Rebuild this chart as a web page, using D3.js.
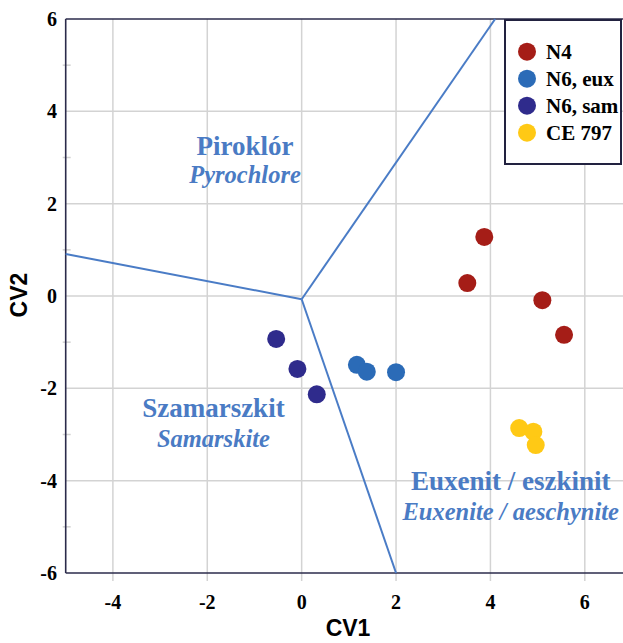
<!DOCTYPE html>
<html><head><meta charset="utf-8">
<script src="https://cdn.jsdelivr.net/npm/d3@7"></script>
<style>body{margin:0;background:#fff;}svg{display:block;}</style>
</head><body>
<script>
const seriesNames = ["N4", "N6, eux", "N6, sam", "CE 797"];
const seriesColors = ["#A51D17", "#2B6BB7", "#2F2B8C", "#FFC915"];
const n4 = [[3.87, 1.28], [3.51, 0.28], [5.10, -0.09], [5.56, -0.84]];
const n6eux = [[1.17, -1.49], [1.38, -1.64], [2.00, -1.65]];
const n6sam = [[-0.54, -0.93], [-0.09, -1.58], [0.32, -2.13]];
const ce797 = [[4.61, -2.86], [4.91, -2.94], [4.96, -3.23]];
const xTicks = [-4, -2, 0, 2, 4, 6];
const yTicks = [-6, -4, -2, 0, 2, 4, 6];
const yMinor = [-5, -3, -1, 1, 3, 5];
const boundaryCenter = [0, -0.07];
const boundaryEnds = [[-5, 0.91], [4.1, 6], [2, -6]];
const regionLabels = [
  {name: "Piroklór", en: "Pyrochlore", x: -1.2, y: 3.05, yEn: 2.45},
  {name: "Szamarszkit", en: "Samarskite", x: -1.87, y: -2.62, yEn: -3.28},
  {name: "Euxenit / eszkinit", en: "Euxenite / aeschynite", x: 4.43, y: -4.2, yEn: -4.85}
];

const W = 623, H = 643;
const svg = d3.select("body").append("svg").attr("width", W).attr("height", H);
const x = d3.scaleLinear().domain([-5, 7]).range([65.7, 632]);
const y = d3.scaleLinear().domain([-6, 6]).range([573, 19]);
const serif = "'Liberation Serif','Times New Roman',serif";
const grid = "#d3d3d3";

// grid lines (vertical extend below axis as ticks)
svg.append("g").selectAll("line").data(xTicks).join("line")
  .attr("x1", d => x(d)).attr("x2", d => x(d))
  .attr("y1", y(6)).attr("y2", y(-6) + 8)
  .attr("stroke", grid).attr("stroke-width", 1.5);
svg.append("g").selectAll("line").data(yTicks.filter(d => d > -6 && d < 6)).join("line")
  .attr("x1", x(-5)).attr("x2", W)
  .attr("y1", d => y(d)).attr("y2", d => y(d))
  .attr("stroke", grid).attr("stroke-width", 1.5);
svg.append("g").selectAll("line").data(yMinor).join("line")
  .attr("x1", x(-5) - 3).attr("x2", x(-5) + 5)
  .attr("y1", d => y(d)).attr("y2", d => y(d))
  .attr("stroke", grid).attr("stroke-width", 1.5);

// axis frame
const axc = "#2b2b4b";
svg.append("line").attr("x1", x(-5)).attr("x2", W).attr("y1", y(-6)).attr("y2", y(-6)).attr("stroke", axc).attr("stroke-width", 1.6);
svg.append("line").attr("x1", x(-5)).attr("x2", W).attr("y1", y(6)).attr("y2", y(6)).attr("stroke", axc).attr("stroke-width", 1.6);
svg.append("line").attr("x1", x(-5)).attr("x2", x(-5)).attr("y1", y(6)).attr("y2", y(-6)).attr("stroke", axc).attr("stroke-width", 1.6);

// tick labels
svg.append("g").selectAll("text").data(xTicks).join("text")
  .attr("x", d => x(d)).attr("y", 609).attr("text-anchor", "middle")
  .attr("font-family", serif).attr("font-weight", "bold").attr("font-size", 20)
  .text(d => d);
svg.append("g").selectAll("text").data(yTicks).join("text")
  .attr("x", 57).attr("y", d => y(d) + 7).attr("text-anchor", "end")
  .attr("font-family", serif).attr("font-weight", "bold").attr("font-size", 20)
  .text(d => d);

// axis titles
const sans = "'Liberation Sans','Open Sans',sans-serif";
svg.append("text").attr("x", 348).attr("y", 636).attr("text-anchor", "middle")
  .attr("font-family", sans).attr("font-weight", "bold").attr("font-size", 23).text("CV1");
svg.append("text").attr("transform", "translate(27,295) rotate(-90)").attr("text-anchor", "middle")
  .attr("font-family", sans).attr("font-weight", "bold").attr("font-size", 23).text("CV2");

// boundaries
const lc = "#4A7CC6";
svg.append("g").selectAll("line").data(boundaryEnds).join("line")
  .attr("x1", x(boundaryCenter[0])).attr("y1", y(boundaryCenter[1]))
  .attr("x2", d => x(d[0])).attr("y2", d => y(d[1]))
  .attr("stroke", lc).attr("stroke-width", 2);

// region labels
const tc = "#4A7BC4";
const rl = svg.append("g");
regionLabels.forEach(r => {
  rl.append("text").attr("x", x(r.x)).attr("y", y(r.y)).attr("text-anchor", "middle")
    .attr("font-family", serif).attr("font-weight", "bold").attr("font-size", 27).attr("fill", tc).text(r.name);
  rl.append("text").attr("x", x(r.x)).attr("y", y(r.yEn)).attr("text-anchor", "middle")
    .attr("font-family", serif).attr("font-weight", "bold").attr("font-style", "italic").attr("font-size", 24.5).attr("fill", tc).text(r.en);
});

// points
const allSeries = [n4, n6eux, n6sam, ce797];
allSeries.forEach((s, i) => {
  svg.append("g").selectAll("circle").data(s).join("circle")
    .attr("cx", d => x(d[0])).attr("cy", d => y(d[1])).attr("r", 9)
    .attr("fill", seriesColors[i]);
});

// legend
const lg = svg.append("g");
lg.append("rect").attr("x", 505).attr("y", 20).attr("width", 116).attr("height", 144)
  .attr("fill", "#fff").attr("stroke", "#222240").attr("stroke-width", 2);
seriesNames.forEach((n, i) => {
  const cy = 51.7 + i * 27;
  lg.append("circle").attr("cx", 527).attr("cy", cy).attr("r", 9).attr("fill", seriesColors[i]);
  lg.append("text").attr("x", 546).attr("y", cy + 7).attr("font-family", serif).attr("font-weight", "bold")
    .attr("font-size", 21).text(n);
});
</script>
</body></html>
